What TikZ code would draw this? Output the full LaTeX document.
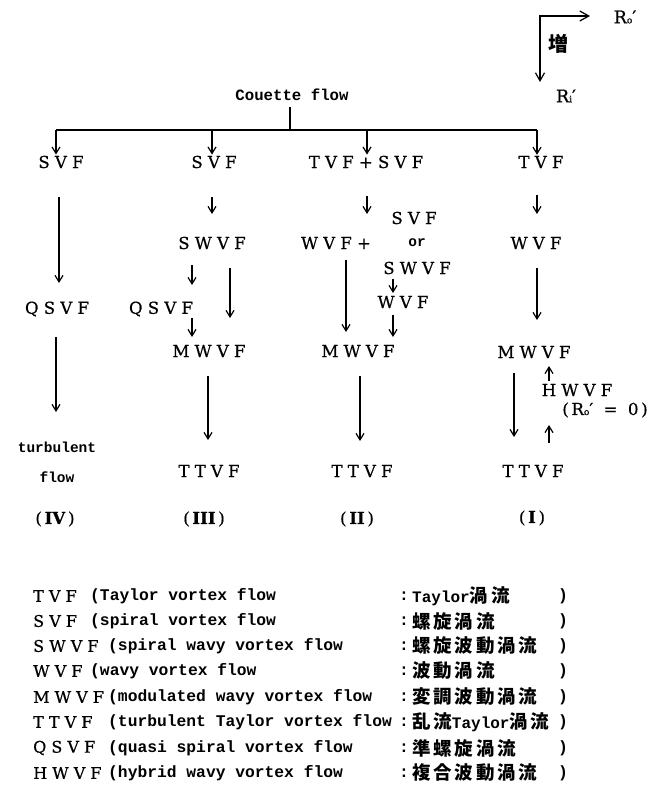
\documentclass[tikz,border=0pt]{standalone}
\usepackage{fontspec}
\setmainfont{DejaVu Serif}
\newfontfamily\serifb[FakeBold=0.6]{DejaVu Serif}
\newfontfamily\cjkls[LetterSpace=15]{Noto Sans CJK JP}
\newfontfamily\cjkz{Noto Sans CJK JP}
\newfontfamily\dmf{Liberation Mono}
\usetikzlibrary{arrows.meta}
\tikzset{
  lab/.style={inner sep=1pt, font={\serifb\fontsize{16.5}{18}\selectfont}},
  dmt/.style={inner sep=1pt, font={\dmf\bfseries\fontsize{15.7}{18}\selectfont}},
  dms/.style={inner sep=1pt, font={\dmf\bfseries\fontsize{14.5}{16}\selectfont}},
  arr/.style={line width=1.2pt, -{Straight Barb[length=6.5pt,width=8pt,line width=1.2pt]}},
  arrtop/.style={line width=1.2pt, {Straight Barb[length=8pt,width=9pt,line width=1.2pt]}-{Straight Barb[length=9pt,width=10pt,line width=1.2pt]}},
  ln/.style={line width=1.2pt},
  legab/.style={anchor=west, inner sep=0pt, font={\serifb\fontsize{16}{18}\selectfont}},
  legtx/.style={anchor=west, inner sep=0pt, font={\dmf\bfseries\fontsize{16.3}{20}\selectfont}},
  legjp/.style={anchor=west, inner sep=0pt, font={\cjkls\bfseries\fontsize{18.5}{20}\selectfont}},
}
\newcommand{\subo}{{\fontsize{9}{9}\selectfont o}}
\newcommand{\subi}{{\fontsize{9}{9}\selectfont i}}
\begin{document}
\begin{tikzpicture}[x=1pt,y=-1pt]
\useasboundingbox (0,0) rectangle (655,791);

% ---- top right: direction of increase
\coordinate (corner) at (540,16);
\coordinate (roend) at (590,16);
\coordinate (riend) at (540,82);
\draw[arrtop] (riend) -- (corner) -- (roend);
\node[lab, font={\serifb\fontsize{17.5}{18}\selectfont}] (ro) at (625,17) {R\subo′};
\node[inner sep=0pt, font={\cjkz\bfseries\fontsize{20}{22}\selectfont}] (zo) at (558,44) {増};
\node[lab, font={\serifb\fontsize{17.5}{18}\selectfont}] (ri) at (566,96) {R\subi′};

% ---- Couette flow and branching line
\node[dmt] (cf) at (292,95) {Couette flow};
\coordinate (stem) at (290,130);
\draw[ln, shorten <=5pt] (cf.south -| stem) -- (stem);
\coordinate (d4) at (56,130);
\coordinate (d3) at (212,130);
\coordinate (d2) at (367,130);
\coordinate (d1) at (537,130);
\draw[ln] (d4) -- (d1);

% ---- first row
\node[lab] (s4) at (61,162) {S V F};
\node[lab] (s3) at (214,162) {S V F};
\node[lab] (s2) at (366,162) {T V F + S V F};
\node[lab] (s1) at (541,162) {T V F};
\draw[arr] (d4) -- (d4 |- s4.north);
\draw[arr] (d3) -- (d3 |- s3.north);
\draw[arr] (d2) -- (d2 |- s2.north);
\draw[arr] (d1) -- (d1 |- s1.north);

% ---- column IV
\coordinate (a4a) at (59,197); \coordinate (a4b) at (59,283);
\draw[arr] (a4a) -- (a4b);
\node[lab] (q4) at (57,309) {Q S V F};
\coordinate (a4c) at (56,337); \coordinate (a4d) at (56,412);
\draw[arr] (a4c) -- (a4d);
\node[dms] (tb4) at (57,447) {turbulent};
\node[dms] (fl4) at (57,477) {flow};
\node[lab] (r4) at (55,519) {(\,\textbf{IV}\,)};

% ---- column III
\coordinate (a3a) at (212,197); \coordinate (a3b) at (212,214);
\draw[arr] (a3a) -- (a3b);
\node[lab] (sw3) at (212,243) {S W V F};
\coordinate (a3c) at (192,265); \coordinate (a3d) at (192,285);
\draw[arr] (a3c) -- (a3d);
\coordinate (a3e) at (230,268); \coordinate (a3f) at (230,318);
\draw[arr] (a3e) -- (a3f);
\node[lab] (q3) at (161,309) {Q S V F};
\coordinate (a3g) at (192,318); \coordinate (a3h) at (192,337);
\draw[arr] (a3g) -- (a3h);
\node[lab] (m3) at (209,351) {M W V F};
\coordinate (a3i) at (208,376); \coordinate (a3j) at (208,440);
\draw[arr] (a3i) -- (a3j);
\node[lab] (t3) at (209,471) {T T V F};
\node[lab] (r3) at (204,519) {(\,\textbf{III}\,)};

% ---- column II
\coordinate (a2a) at (367,196); \coordinate (a2b) at (367,214);
\draw[arr] (a2a) -- (a2b);
\node[lab] (sv2) at (414,218) {S V F};
\node[lab] (w2) at (336,243) {W V F +};
\node[dms] (or2) at (417,243) {or};
\node[lab] (sw2) at (417,268) {S W V F};
\coordinate (a2c) at (393,279); \coordinate (a2d) at (393,293);
\draw[arr] (a2c) -- (a2d);
\node[lab] (w2b) at (403,302) {W V F};
\coordinate (a2e) at (393,315); \coordinate (a2f) at (393,337);
\draw[arr] (a2e) -- (a2f);
\coordinate (a2g) at (346,260); \coordinate (a2h) at (346,332);
\draw[arr] (a2g) -- (a2h);
\node[lab] (m2) at (358,351) {M W V F};
\coordinate (a2i) at (360,376); \coordinate (a2j) at (360,441);
\draw[arr] (a2i) -- (a2j);
\node[lab] (t2) at (362,471) {T T V F};
\node[lab] (r2) at (357,519) {(\,\textbf{II}\,)};

% ---- column I
\coordinate (a1a) at (537,195); \coordinate (a1b) at (537,214);
\draw[arr] (a1a) -- (a1b);
\node[lab] (w1) at (536,243) {W V F};
\coordinate (a1c) at (537,268); \coordinate (a1d) at (537,320);
\draw[arr] (a1c) -- (a1d);
\node[lab] (m1) at (534,352) {M W V F};
\coordinate (a1e) at (549,381); \coordinate (a1f) at (549,366);
\draw[arr] (a1e) -- (a1f);
\node[lab] (h1) at (577,390) {H W V F};
\node[lab] (ro0) at (605,410) {(\,R\subo′\ \ =\ \ 0\,)};
\coordinate (a1g) at (549,443); \coordinate (a1h) at (549,425);
\draw[arr] (a1g) -- (a1h);
\coordinate (a1i) at (514,373); \coordinate (a1j) at (514,437);
\draw[arr] (a1i) -- (a1j);
\node[lab] (t1) at (533,471) {T T V F};
\node[lab] (r1) at (532,518) {(\,\textbf{I}\,)};

% ---- legend
\node[legab] (lab1) at (33,596) {T V F};
\node[legtx] (lt1) at (90,596) {(Taylor vortex flow};
\node[legtx] (lc1) at (399,596) {:};
\node[legjp] (lj1) at (412,596) {{\dmf\bfseries\fontsize{16}{20}\selectfont Taylor}渦流};
\node[legtx] (lp1) at (558,596) {)};

\node[legab] (lab2) at (33,621) {S V F};
\node[legtx] (lt2) at (90,621) {(spiral vortex flow};
\node[legtx] (lc2) at (399,621) {:};
\node[legjp] (lj2) at (412,621) {螺旋渦流};
\node[legtx] (lp2) at (558,621) {)};

\node[legab] (lab3) at (33,646) {S W V F};
\node[legtx] (lt3) at (108,646) {(spiral wavy vortex flow};
\node[legtx] (lc3) at (399,646) {:};
\node[legjp] (lj3) at (412,646) {螺旋波動渦流};
\node[legtx] (lp3) at (558,646) {)};

\node[legab] (lab4) at (33,671) {W V F};
\node[legtx] (lt4) at (90,671) {(wavy vortex flow};
\node[legtx] (lc4) at (399,671) {:};
\node[legjp] (lj4) at (412,671) {波動渦流};
\node[legtx] (lp4) at (558,671) {)};

\node[legab] (lab5) at (33,697) {M W V F};
\node[legtx] (lt5) at (108,697) {(modulated wavy vortex flow};
\node[legtx] (lc5) at (399,697) {:};
\node[legjp] (lj5) at (412,697) {変調波動渦流};
\node[legtx] (lp5) at (558,697) {)};

\node[legab] (lab6) at (33,722) {T T V F};
\node[legtx] (lt6) at (108,722) {(turbulent Taylor vortex flow};
\node[legtx] (lc6) at (399,722) {:};
\node[legjp] (lj6) at (412,722) {乱流{\dmf\bfseries\fontsize{16}{20}\selectfont Taylor}渦流};
\node[legtx] (lp6) at (558,722) {)};

\node[legab] (lab7) at (33,748) {Q S V F};
\node[legtx] (lt7) at (108,748) {(quasi spiral vortex flow};
\node[legtx] (lc7) at (399,748) {:};
\node[legjp] (lj7) at (412,748) {準螺旋渦流};
\node[legtx] (lp7) at (558,748) {)};

\node[legab] (lab8) at (33,773) {H W V F};
\node[legtx] (lt8) at (108,773) {(hybrid wavy vortex flow};
\node[legtx] (lc8) at (399,773) {:};
\node[legjp] (lj8) at (412,773) {複合波動渦流};
\node[legtx] (lp8) at (558,773) {)};
\end{tikzpicture}
\end{document}
